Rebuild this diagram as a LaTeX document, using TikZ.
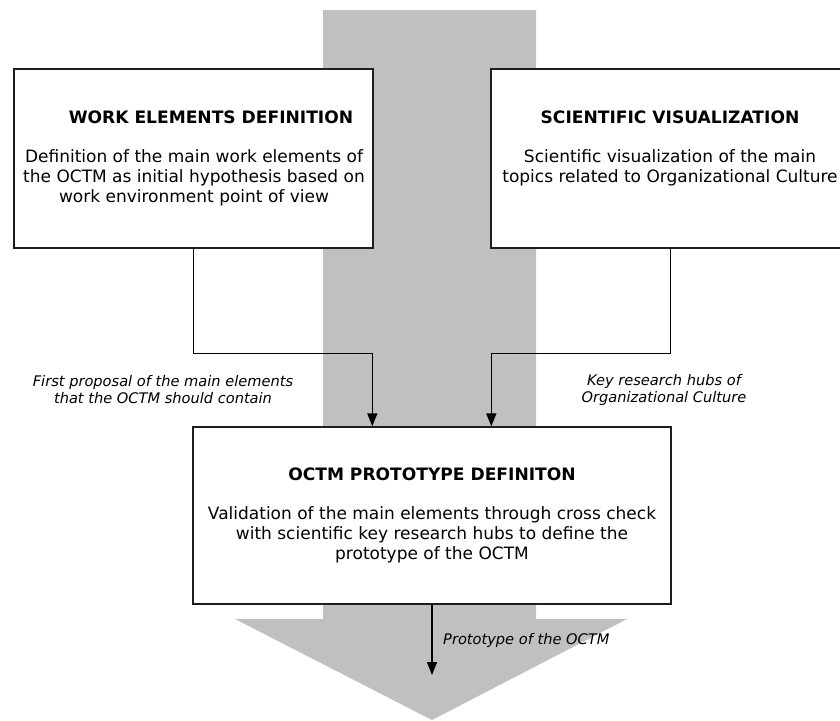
\documentclass[tikz,border=0pt]{standalone}
\usepackage{fontspec}
\setmainfont{DejaVu Sans}
\usetikzlibrary{arrows.meta}
\definecolor{shaftgray}{RGB}{192,192,192}
\definecolor{edge}{RGB}{30,30,30}
\begin{document}
\begin{tikzpicture}[x=1pt,y=-1pt,
  box/.style={draw=edge,line width=1.4pt,fill=white,inner sep=0pt},
  ttl/.style={font=\fontsize{17.1}{20}\selectfont\bfseries,inner sep=0pt},
  body/.style={font=\fontsize{17}{20}\selectfont,align=center,inner sep=0pt},
  lbl/.style={font=\fontsize{14.6}{17}\selectfont\itshape,align=center,inner sep=0pt},
  arr/.style={draw=black,line width=1.4pt,-{Triangle[length=13pt,width=10pt]}}]
\useasboundingbox (0,0) rectangle (840,720);
\fill[white] (0,0) rectangle (840,720);
% big gray arrow
\fill[shaftgray] (323,10) -- (536,10) -- (536,619) -- (627,619) -- (432,720)
  -- (235,619) -- (323,619) -- cycle;
% boxes
\node[box,minimum width=359pt,minimum height=179pt] (b1) at (193.5,158.5) {};
\node[box,minimum width=359pt,minimum height=179pt] (b2) at (670.5,158.5) {};
\node[box,minimum width=478pt,minimum height=177pt] (b3) at (432,515.5) {};
% texts
\node[ttl] (t1) at (211,117) {WORK ELEMENTS DEFINITION};
\node[body] (d1) at (194,178) {Definition of the main work elements of\\the OCTM as initial hypothesis based on\\work environment point of view};
\node[ttl] (t2) at (670,117) {SCIENTIFIC VISUALIZATION};
\node[body] (d2) at (670,168) {Scientific visualization of the main\\topics related to Organizational Culture};
\node[ttl] (t3) at (432,474) {OCTM PROTOTYPE DEFINITON};
\node[body] (d3) at (432,535) {Validation of the main elements through cross check\\with scientific key research hubs to define the\\prototype of the OCTM};
% connectors
\coordinate (e1) at ([xshift=180pt]b3.north west);
\coordinate (e2) at ([xshift=299pt]b3.north west);
\coordinate (out) at (432,675);
\draw[arr] (b1.south) |- ([yshift=73pt]e1) -- (e1);
\draw[arr] (b2.south) |- ([yshift=73pt]e2) -- (e2);
\draw[arr] (b3.south) -- (out);
% labels
\node[lbl] (l1) at (163,390) {First proposal of the main elements\\that the OCTM should contain};
\node[lbl] (l2) at (664,390) {Key research hubs of\\Organizational Culture};
\node[lbl,anchor=west] (l3) at (443,640) {Prototype of the OCTM};
\end{tikzpicture}
\end{document}
